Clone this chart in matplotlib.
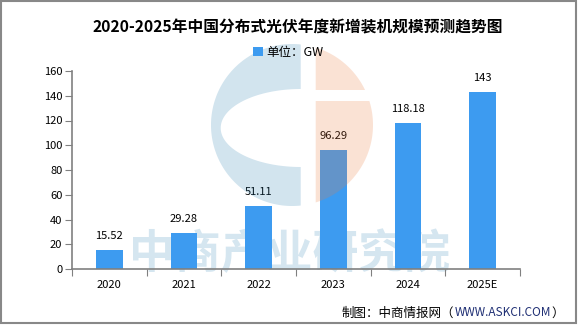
import matplotlib
matplotlib.use("Agg")
import matplotlib.pyplot as plt
import numpy as np
from matplotlib.patches import Polygon, Rectangle

plt.rcParams['font.family'] = ['Noto Sans CJK SC', 'DejaVu Sans']

# 分布式光伏年度新增装机（GW）
years = ['2020', '2021', '2022', '2023', '2024', '2025E']
capacity = [15.52, 29.28, 51.11, 96.29, 118.18, 143]
yticks = [0, 20, 40, 60, 80, 100, 120, 140, 160]

W, H = 585, 327
fig = plt.figure(figsize=(W / 100, H / 100), dpi=100)
fig.patch.set_facecolor('white')

ax = fig.add_axes([72 / W, (H - 269) / H, (520 - 72) / W, 198 / H])
x = np.arange(len(years))
bars = ax.bar(x, capacity, width=0.36, color='#3D9BF0', zorder=2)

for xi, v in zip(x, capacity):
    ax.annotate(f'{v:g}', (xi, v), xytext=(0, 10), textcoords='offset points',
                ha='center', va='center', fontsize=8)

ax.set_xlim(-0.5, len(years) - 0.5)
ax.set_ylim(0, 160)
ax.set_yticks(yticks)
ax.set_xticks(np.arange(len(years) + 1) - 0.5)
ax.set_xticklabels([])
ax.set_xticks(x, minor=True)
ax.set_xticklabels(years, minor=True)
ax.tick_params(axis='x', which='major', length=5, color='#808080')
ax.tick_params(axis='x', which='minor', length=0, pad=8, labelsize=8)
ax.tick_params(axis='y', length=5, color='#808080', labelsize=8, pad=2)
for side in ['top', 'right']:
    ax.spines[side].set_visible(False)
for side in ['left', 'bottom']:
    ax.spines[side].set_color('#808080')
    ax.spines[side].set_linewidth(1.2)

# 背景水印文字（在柱子下面）
ax.text(290 / W, 1 - 255 / H, '中商产业研究院', transform=fig.transFigure,
        ha='center', va='center', fontsize=33, fontweight='bold',
        color='#D5E6F0', zorder=0.5, clip_on=False)

# 标题、图例、来源
fig.text(298 / W, 1 - 27 / H, '2020-2025年中国分布式光伏年度新增装机规模预测趋势图',
         ha='center', va='center', fontsize=11.3, fontweight='bold')
leg = fig.legend(handles=[bars], labels=['单位：GW'], loc='center',
                 bbox_to_anchor=(288 / W, 1 - 52.5 / H), frameon=False, fontsize=9,
                 handlelength=0.8, handleheight=0.8, handletextpad=0.3)
leg.set_zorder(10)

t1 = fig.text(342 / W, 1 - 313 / H, '制图：中商情报网（', ha='left', va='center', fontsize=9)
t2 = ax.annotate('WWW.ASKCI.COM', xy=(1, 0.5), xycoords=t1, ha='left', va='center',
                 fontsize=8.5, color='#1F2F74', annotation_clip=False)
ax.annotate('）', xy=(1, 0.5), xycoords=t2, ha='left', va='center', fontsize=9,
            annotation_clip=False)

# 覆盖层：logo 水印和外框（像素坐标）
ov = fig.add_axes([0, 0, 1, 1], zorder=5)
ov.set_xlim(0, W)
ov.set_ylim(H, 0)
ov.axis('off')

cx, cy, r = 292, 125, 81
gap_l, gap_r = 300.7, 315.7

# 左半部分：C 形
th0 = np.arccos((gap_l - cx) / r)
th = np.linspace(th0, 2 * np.pi - th0, 120)
outer = np.column_stack([cx + r * np.cos(th), cy + r * np.sin(th)])
phi = np.linspace(1.5 * np.pi, 0.5 * np.pi, 100)
inner = np.column_stack([gap_l + 80 * np.cos(phi), 128 + 39 * np.sin(phi)])
left_pts = np.vstack([outer, inner])
ov.add_patch(Polygon(left_pts, closed=True, facecolor='#1E78AA', alpha=0.2,
                     edgecolor='none'))

# 右半部分：被横缝分成上下两块
def x_arc(y):
    return cx + np.sqrt(np.clip(r ** 2 - (y - cy) ** 2, 0, None))

dy = np.sqrt(r ** 2 - (gap_r - cx) ** 2)
y_top, y_bot = cy - dy, cy + dy
for y0, y1 in [(y_top, 90), (101, y_bot)]:
    ys = np.linspace(y0, y1, 80)
    pts = [(gap_r, y0)] + [(x_arc(y), y) for y in ys] + [(gap_r, y1)]
    ov.add_patch(Polygon(pts, closed=True, facecolor='#EC7C3F', alpha=0.22,
                         edgecolor='none'))

ov.add_patch(Rectangle((1, 1), 575, 322, fill=False, edgecolor='#888888',
                       linewidth=1.5))

fig.savefig('out.png', dpi=100)
